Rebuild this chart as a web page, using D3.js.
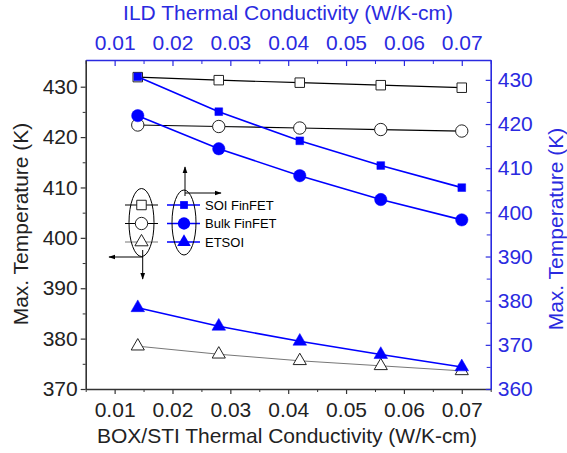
<!DOCTYPE html>
<html>
<head>
<meta charset="utf-8">
<script src="https://cdn.jsdelivr.net/npm/d3@7"></script>
<style>
  body { margin: 0; background: #fff; }
  text { font-family: "Liberation Sans", Arial, sans-serif; }
</style>
</head>
<body>
<svg width="567" height="453"></svg>
<script>
// conductivity values (shared by both x axes)
let xVals = [0.014, 0.028, 0.042, 0.056, 0.07];

// left axis: BOX/STI sweep (black, open markers)
let soiBox = [431.9, 431.3, 430.8, 430.3, 429.8];
let bulkBox = [422.4, 422.1, 421.8, 421.5, 421.2];
let etsoiBox = [378.5, 376.9, 375.6, 374.6, 373.6];

// right axis: ILD sweep (blue, filled markers)
let soiIld = [430.7, 422.8, 416.2, 410.6, 405.6];
let bulkIld = [421.9, 414.4, 408.3, 402.9, 398.3];
let etsoiIld = [378.4, 374.2, 370.8, 367.8, 365.0];

let xTicks = [0.01, 0.02, 0.03, 0.04, 0.05, 0.06, 0.07];
let leftTicks = [370, 380, 390, 400, 410, 420, 430];
let rightTicks = [360, 370, 380, 390, 400, 410, 420, 430];
let legendNames = ["SOI FinFET", "Bulk FinFET", "ETSOI"];

let svg = d3.select("svg"),
  x0 = 85.7, x1 = 490.7, y0 = 60, y1 = 389,
  blue = "#0000ff", axisBlue = "#2a2ae0", dark = "#333",
  fs = 21;

let x = d3.scaleLinear().domain([0.005, 0.075]).range([x0, x1]);
let yL = d3.scaleLinear().domain([370, 435.3]).range([y1, y0]);
let yR = d3.scaleLinear().domain([360, 434.5]).range([y1, y0]);

let fmt = d3.format(".2f");
let xMinor = d3.range(0.005, 0.0751, 0.005).filter((v) => Math.abs(v * 100 - Math.round(v * 100)) > 1e-6);
let lMinor = d3.range(375, 435, 10);
let rMinor = d3.range(365, 435, 10);

function styleAxis(g, color, size) {
  g.select(".domain").attr("stroke", color).attr("stroke-width", 1.6);
  g.selectAll(".tick line").attr("stroke", color).attr("stroke-width", 1.2);
  g.selectAll(".tick text").attr("fill", color).style("font-size", size + "px")
    .style("font-family", "Liberation Sans, Arial, sans-serif");
}

// bottom axis
let gb = svg.append("g").attr("transform", "translate(0," + y1 + ")")
  .call(d3.axisBottom(x).tickValues(xTicks).tickFormat(fmt).tickSizeInner(5).tickSizeOuter(0).tickPadding(8));
styleAxis(gb, dark, fs);
gb.selectAll(".tick text").attr("fill", "#222");
svg.append("g").attr("transform", "translate(0," + y1 + ")")
  .call(d3.axisBottom(x).tickValues(xMinor).tickFormat("").tickSizeInner(3).tickSizeOuter(0))
  .call((g) => { g.select(".domain").remove(); g.selectAll("line").attr("stroke", dark); });

// top axis (ticks inward)
let gt = svg.append("g").attr("transform", "translate(0," + y0 + ")")
  .call(d3.axisTop(x).tickValues(xTicks).tickFormat(fmt).tickSizeInner(-6).tickSizeOuter(0).tickPadding(10));
styleAxis(gt, axisBlue, fs);
svg.append("g").attr("transform", "translate(0," + y0 + ")")
  .call(d3.axisTop(x).tickValues(xMinor).tickFormat("").tickSizeInner(-4).tickSizeOuter(0))
  .call((g) => { g.select(".domain").remove(); g.selectAll("line").attr("stroke", axisBlue); });

// left axis
let gl = svg.append("g").attr("transform", "translate(" + x0 + ",0)")
  .call(d3.axisLeft(yL).tickValues(leftTicks).tickSizeInner(5).tickSizeOuter(0).tickPadding(3));
styleAxis(gl, dark, fs);
gl.selectAll(".tick text").attr("fill", "#222");
svg.append("g").attr("transform", "translate(" + x0 + ",0)")
  .call(d3.axisLeft(yL).tickValues(lMinor).tickFormat("").tickSizeInner(3).tickSizeOuter(0))
  .call((g) => { g.select(".domain").remove(); g.selectAll("line").attr("stroke", dark); });

// right axis (ticks inward)
let gr = svg.append("g").attr("transform", "translate(" + x1 + ",0)")
  .call(d3.axisRight(yR).tickValues(rightTicks).tickSizeInner(-5).tickSizeOuter(0).tickPadding(7));
styleAxis(gr, axisBlue, fs);
svg.append("g").attr("transform", "translate(" + x1 + ",0)")
  .call(d3.axisRight(yR).tickValues(rMinor).tickFormat("").tickSizeInner(-4).tickSizeOuter(0))
  .call((g) => { g.select(".domain").remove(); g.selectAll("line").attr("stroke", axisBlue); });

// axis titles
svg.append("text").attr("x", 288).attr("y", 20).attr("text-anchor", "middle")
  .attr("fill", axisBlue).style("font-size", fs + "px").text("ILD Thermal Conductivity (W/K-cm)");
svg.append("text").attr("x", 287).attr("y", 443).attr("text-anchor", "middle")
  .attr("fill", "#222").style("font-size", fs + "px").text("BOX/STI Thermal Conductivity (W/K-cm)");
svg.append("text").attr("transform", "translate(28,224) rotate(-90)").attr("text-anchor", "middle")
  .attr("fill", "#222").style("font-size", fs + "px").text("Max. Temperature (K)");
svg.append("text").attr("transform", "translate(563,229) rotate(-90)").attr("text-anchor", "middle")
  .attr("fill", axisBlue).style("font-size", fs + "px").text("Max. Temperature (K)");

// series
let series = [
  { v: soiBox, y: yL, color: "#000", w: 1.2, sym: d3.symbolSquare, size: 90, open: true },
  { v: bulkBox, y: yL, color: "#000", w: 1.2, sym: d3.symbolCircle, size: 120, open: true },
  { v: etsoiBox, y: yL, color: "#777", w: 1, sym: d3.symbolTriangle, size: 75, open: true },
  { v: soiIld, y: yR, color: blue, w: 1.6, sym: d3.symbolSquare, size: 60, open: false },
  { v: bulkIld, y: yR, color: blue, w: 1.6, sym: d3.symbolCircle, size: 120, open: false },
  { v: etsoiIld, y: yR, color: blue, w: 1.6, sym: d3.symbolTriangle, size: 80, open: false }
];

series.forEach((s) => {
  let pts = xVals.map((xv, i) => [x(xv), s.y(s.v[i])]);
  svg.append("path").datum(pts)
    .attr("d", d3.line())
    .attr("fill", "none").attr("stroke", s.color).attr("stroke-width", s.w);
  svg.selectAll(null).data(pts).enter().append("path")
    .attr("transform", (d) => "translate(" + d[0] + "," + d[1] + ")")
    .attr("d", d3.symbol().type(s.sym).size(s.size))
    .attr("fill", s.open ? "#fff" : blue)
    .attr("stroke", s.open ? "#222" : blue)
    .attr("stroke-width", s.open ? 1 : 0.5);
});

// legend
let defs = svg.append("defs");
defs.append("marker").attr("id", "arr").attr("viewBox", "0 0 10 10")
  .attr("refX", 9).attr("refY", 5).attr("markerWidth", 7).attr("markerHeight", 7)
  .attr("orient", "auto-start-reverse")
  .append("path").attr("d", "M0,1.5L10,5L0,8.5Z").attr("fill", "#000");

let legY = [205, 223.5, 242];
let lg = svg.append("g");
legendNames.forEach((name, i) => {
  let sb = series[i], sr = series[i + 3];
  lg.append("line").attr("x1", 125).attr("x2", 158).attr("y1", legY[i]).attr("y2", legY[i])
    .attr("stroke", sb.color).attr("stroke-width", sb.w);
  lg.append("path").attr("transform", "translate(141.5," + legY[i] + ")")
    .attr("d", d3.symbol().type(sb.sym).size(sb.size)).attr("fill", "#fff").attr("stroke", "#222");
  lg.append("line").attr("x1", 167).attr("x2", 200).attr("y1", legY[i]).attr("y2", legY[i])
    .attr("stroke", blue).attr("stroke-width", 1.6);
  lg.append("path").attr("transform", "translate(184," + legY[i] + ")")
    .attr("d", d3.symbol().type(sr.sym).size(sr.size)).attr("fill", blue);
  lg.append("text").attr("x", 205).attr("y", legY[i] + 4.5).attr("fill", "#000")
    .style("font-size", "13px").text(name);
});
lg.append("ellipse").attr("cx", 141.5).attr("cy", 222.5).attr("rx", 12.5).attr("ry", 34)
  .attr("fill", "none").attr("stroke", "#000").attr("stroke-width", 1);
lg.append("ellipse").attr("cx", 184).attr("cy", 222.5).attr("rx", 12).attr("ry", 32.5)
  .attr("fill", "none").attr("stroke", "#000").attr("stroke-width", 1);

let arrows = [
  [185, 196, 185, 167], [185, 193, 221, 193],
  [143, 257, 109, 257], [142.7, 250, 142.7, 279]
];
arrows.forEach((a) => {
  lg.append("line").attr("x1", a[0]).attr("y1", a[1]).attr("x2", a[2]).attr("y2", a[3])
    .attr("stroke", "#000").attr("stroke-width", 1).attr("marker-end", "url(#arr)");
});
</script>
</body>
</html>
